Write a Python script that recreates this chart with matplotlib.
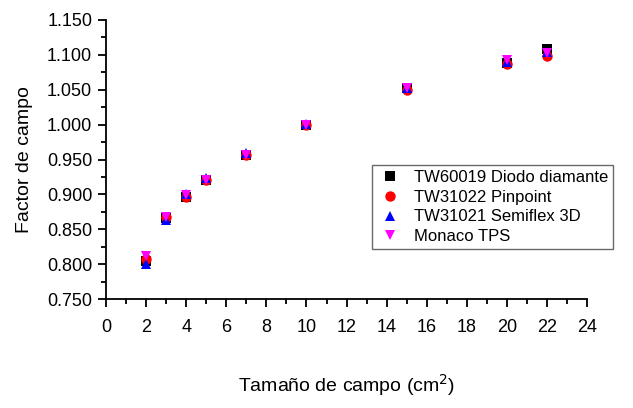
import matplotlib.pyplot as plt
from matplotlib.ticker import MultipleLocator

plt.rcParams['font.family'] = ['Liberation Sans', 'DejaVu Sans']

# Field sizes (cm2)
campo = [2, 3, 4, 5, 7, 10, 15, 20, 22]

# Field factors per detector
diodo = [0.805, 0.866, 0.897, 0.920, 0.957, 1.000, 1.053, 1.088, 1.108]
pinpoint = [0.808, 0.867, 0.897, 0.920, 0.957, 0.999, 1.049, 1.087, 1.099]
semiflex = [0.800, 0.864, 0.900, 0.923, 0.960, 1.001, 1.052, 1.090, 1.104]
monaco = [0.812, 0.868, 0.899, 0.920, 0.957, 1.000, 1.052, 1.093, 1.102]

series = [
    (diodo, 'TW60019 Diodo diamante', 's', 'black'),
    (pinpoint, 'TW31022 Pinpoint', 'o', 'red'),
    (semiflex, 'TW31021 Semiflex 3D', '^', 'blue'),
    (monaco, 'Monaco TPS', 'v', 'magenta'),
]

fig = plt.figure(figsize=(6.33, 4.08), dpi=100)
ax = fig.add_axes([0.1675, 0.267, 0.76, 0.684])

for vals, label, mk, col in series:
    ax.plot(campo, vals, linestyle='none', marker=mk, color=col,
            markersize=7.5, markeredgewidth=0, label=label)

ax.set_xlim(0, 24)
ax.set_ylim(0.75, 1.15)
ax.xaxis.set_major_locator(MultipleLocator(2))
ax.xaxis.set_minor_locator(MultipleLocator(1))
ax.yaxis.set_major_locator(MultipleLocator(0.05))
ax.yaxis.set_minor_locator(MultipleLocator(0.025))
ax.yaxis.set_major_formatter(lambda v, p: f'{v:.3f}')

for side in ['top', 'right']:
    ax.spines[side].set_visible(False)
for side in ['left', 'bottom']:
    ax.spines[side].set_linewidth(1.3)

ax.tick_params(which='major', direction='out', length=6, width=1.3, labelsize=13)
ax.tick_params(axis='x', which='major', pad=8)
ax.tick_params(axis='y', which='major', pad=4)
ax.tick_params(which='minor', direction='out', length=3.5, width=1.3)

ax.set_xlabel('Tamaño de campo (cm$^2$)', fontsize=14, labelpad=26)
ax.set_ylabel('Factor de campo', fontsize=14, labelpad=10)

leg = ax.legend(loc='upper left', bbox_to_anchor=(372 / 633, 1 - 165 / 408),
                bbox_transform=fig.transFigure, fontsize=12,
                frameon=True, fancybox=False, edgecolor='#444444',
                handletextpad=0.6, borderpad=0.3, labelspacing=0.28,
                handlelength=1.6, borderaxespad=0)
leg.get_frame().set_linewidth(1.0)

fig.savefig('out.png', dpi=100)
